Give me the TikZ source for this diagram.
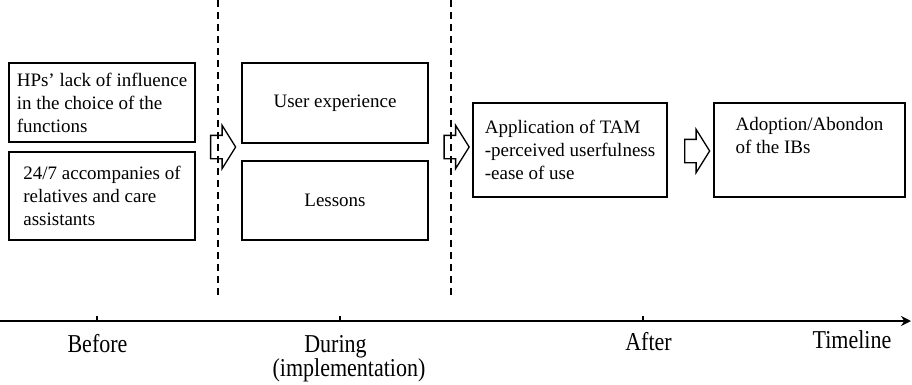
\documentclass[tikz,border=0pt]{standalone}
\usepackage{fontspec}
\usepackage{graphicx}
\setmainfont{Liberation Serif}
\usetikzlibrary{shapes.arrows,arrows.meta}
\newcommand{\tall}[1]{\scalebox{1}[1.17]{#1}}
\begin{document}
\begin{tikzpicture}[x=1pt,y=-1pt,
  txt/.style={font=\fontsize{19}{23}\selectfont},
  box/.style={txt,draw,line width=1.3pt,inner sep=0pt,align=left},
  cbox/.style={txt,draw,line width=1.3pt,inner sep=0pt,align=center},
  blockarrow/.style={single arrow,draw,line width=1.3pt,inner xsep=0pt,inner ysep=11pt,
    minimum height=25pt,single arrow head extend=10pt,
    single arrow tip angle=116},
  divider/.style={line width=1.7pt,dash pattern=on 7pt off 5pt},
  tick/.style={line width=1.2pt},
  lbl/.style={font=\fontsize{22}{24}\selectfont,anchor=base,inner sep=0pt}]
\useasboundingbox (0,0) rectangle (912,384);
% boxes
\node[box,minimum width=186pt,minimum height=79pt] (b1) at (102,102.5)
  {HPs' lack of influence\\in the choice of the\\functions};
\node[box,minimum width=186pt,minimum height=88pt] (b2) at (102,196)
  {24/7 accompanies of\\relatives and care\\assistants};
\node[cbox,minimum width=186pt,minimum height=80pt] (b3) at (335,103)
  {User experience};
\node[cbox,minimum width=186pt,minimum height=79pt] (b4) at (335,200.5)
  {Lessons};
\node[box,minimum width=194pt,minimum height=94pt] (b5) at (570,150)
  {Application of TAM\\-perceived userfulness\\-ease of use};
\node[box,minimum width=191pt,minimum height=94pt] (b6) at (809.5,150)
  {Adoption/Abondon\\of the IBs\\\strut};
% block arrows
\node[blockarrow] (a1) at (219.5,147) {};
\node[blockarrow] (a2) at (453,147) {};
\node[blockarrow] (a3) at (693.5,151) {};
% dashed dividers
\coordinate (d1t) at (218,0);
\coordinate (d1b) at (218,296);
\coordinate (d2t) at (451,0);
\coordinate (d2b) at (451,296);
\draw[divider] (d1t) -- (d1b);
\draw[divider] (d2t) -- (d2b);
% timeline
\coordinate (ts) at (0,321);
\coordinate (te) at (911,321);
\draw[line width=1.6pt,-{Stealth[length=10pt,width=10pt]}] (ts) -- (te);
\coordinate (t1) at (97,321);
\coordinate (t2) at (340,321);
\coordinate (t3) at (643,321);
\draw[tick] (t1) -- ++(0,-5.5);
\draw[tick] (t2) -- ++(0,-5.5);
\draw[tick] (t3) -- ++(0,-5.5);
\node[lbl] (l1) at (97.5,352) {\tall{Before}};
\node[lbl] (l2a) at (335.5,352) {\tall{During}};
\node[lbl] (l2b) at (349,376) {\tall{(implementation)}};
\node[lbl] (l3) at (648.5,350) {\tall{After}};
\node[lbl] (l4) at (852,348) {\tall{Timeline}};
\end{tikzpicture}
\end{document}
